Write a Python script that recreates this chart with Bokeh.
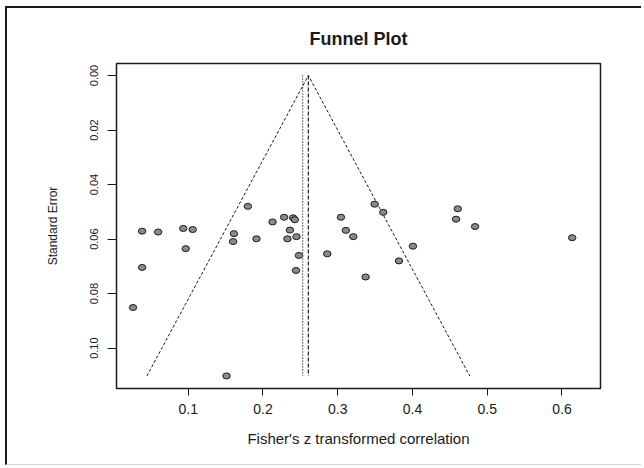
from bokeh.plotting import figure
from bokeh.models import Range1d, FixedTicker, PrintfTickFormatter
from bokeh.embed import file_html
from bokeh.resources import INLINE

# ---- data ----
fisher_z = [0.6137, 0.4606, 0.4584, 0.4838, 0.3494, 0.3609, 0.4006, 0.3819, 0.3373,
            0.3043, 0.3109, 0.3208, 0.2860, 0.2283, 0.2404, 0.2426, 0.2360, 0.2327,
            0.2448, 0.2481, 0.2442, 0.2128, 0.1798, 0.1913, 0.1611, 0.1600, 0.1512,
            0.0933, 0.1060, 0.0966, 0.0597, 0.0383, 0.0383, 0.0261]
std_err = [0.0595, 0.0489, 0.0527, 0.0554, 0.0472, 0.0502, 0.0626, 0.0680, 0.0739,
           0.0520, 0.0568, 0.0591, 0.0654, 0.0520, 0.0522, 0.0529, 0.0567, 0.0599,
           0.0591, 0.0660, 0.0715, 0.0537, 0.0480, 0.0599, 0.0580, 0.0609, 0.1102,
           0.0561, 0.0565, 0.0635, 0.0574, 0.0571, 0.0704, 0.0851]
pooled_estimate = 0.2607      # dashed vertical line / funnel apex
other_estimate = 0.2530       # dotted vertical line
se_max = 0.1102
z_crit = 1.96
x_ticks = [0.1, 0.2, 0.3, 0.4, 0.5, 0.6]
y_ticks = [0.00, 0.02, 0.04, 0.06, 0.08, 0.10]

FONT = "Liberation Sans"
INK = "#1a1a1a"

p = figure(width=636, height=459, output_backend="svg", toolbar_location=None,
           x_range=Range1d(0.004, 0.6516), y_range=Range1d(0.1148, -0.0044),
           min_border_left=109, min_border_right=43, min_border_top=55,
           min_border_bottom=79, title="Funnel Plot")
# outer frame of the screenshot (dark left/top edges, light bottom edge)
p.styles = {"margin-left": "5px", "margin-top": "6px",
            "border-left": "2px solid #1a1a1a", "border-top": "2px solid #1a1a1a",
            "border-bottom": "1px solid #d4d4d4"}

p.grid.visible = False
p.outline_line_color = INK
p.outline_line_width = 1.5
p.background_fill_color = "white"
p.border_fill_color = "white"

p.title.align = "center"
p.title.text_font = FONT
p.title.text_font_size = "18px"
p.title.text_font_style = "bold"
p.title.text_color = INK
p.title.standoff = 30

for ax in (p.xaxis[0], p.yaxis[0]):
    ax.axis_line_color = None
    ax.minor_tick_line_color = None
    ax.major_tick_in = 0
    ax.major_tick_line_color = INK
    ax.major_label_text_font = FONT
    ax.major_label_text_color = INK
    ax.axis_label_text_font = FONT
    ax.axis_label_text_font_style = "normal"
    ax.axis_label_text_color = INK

p.xaxis.ticker = FixedTicker(ticks=x_ticks)
p.xaxis.formatter = PrintfTickFormatter(format="%.1f")
p.xaxis.major_tick_out = 7
p.xaxis.major_label_standoff = 8
p.xaxis.major_label_text_font_size = "14px"
p.xaxis.axis_label = "Fisher's z transformed correlation"
p.xaxis.axis_label_text_font_size = "15px"
p.xaxis.axis_label_standoff = 13

p.yaxis.ticker = FixedTicker(ticks=y_ticks)
p.yaxis.formatter = PrintfTickFormatter(format="%.2f")
p.yaxis.major_tick_out = 9
p.yaxis.major_label_orientation = "vertical"
p.yaxis.major_label_standoff = 9
p.yaxis.major_label_text_font_size = "11px"
p.yaxis.axis_label = "Standard Error"
p.yaxis.axis_label_text_font_size = "12px"
p.yaxis.axis_label_standoff = 28

# funnel
left_edge = pooled_estimate - z_crit * se_max
right_edge = pooled_estimate + z_crit * se_max
p.line([left_edge, pooled_estimate, right_edge], [se_max, 0, se_max],
       line_color=INK, line_width=1, line_dash="3 2")
p.line([pooled_estimate, pooled_estimate], [0, se_max],
       line_color=INK, line_width=1.2, line_dash="4 2")
p.line([other_estimate, other_estimate], [0, se_max],
       line_color=INK, line_width=1.3, line_dash="1 2")

# studies
p.ellipse(x=fisher_z, y=std_err, width=7.5, height=6, width_units="screen",
          height_units="screen", fill_color="#8a8a8a", line_color=INK, line_width=1)

open("out.html", "w").write(file_html(p, INLINE))
